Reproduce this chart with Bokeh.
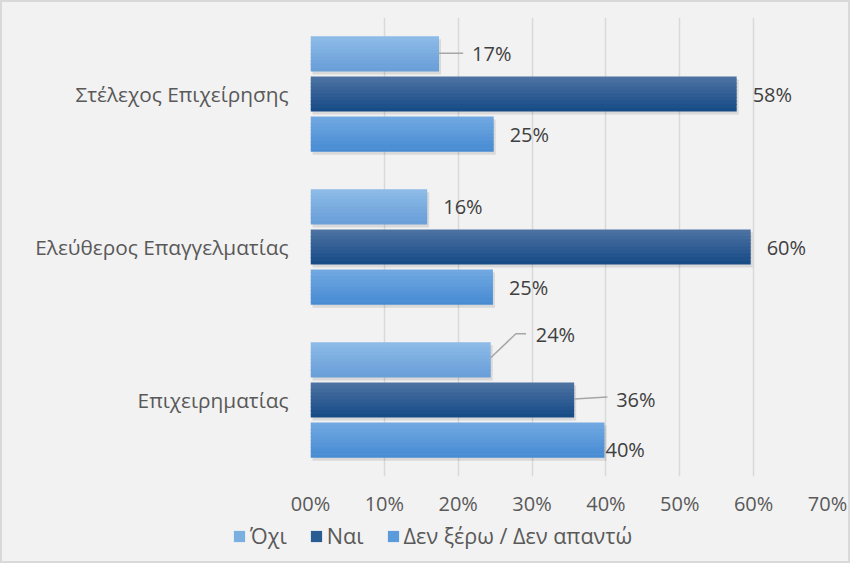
from bokeh.plotting import figure
from bokeh.layouts import column
from bokeh.models import (ColumnDataSource, FixedTicker, Legend, LegendItem, Range1d)
from bokeh.core.properties import value
from bokeh.embed import file_html
from bokeh.resources import INLINE

# ---- data ----
categories = ["Επιχειρηματίας", "Ελεύθερος Επαγγελματίας", "Στέλεχος Επιχείρησης"]  # bottom -> top
series_names = ["Όχι", "Ναι", "Δεν ξέρω / Δεν απαντώ"]
ochi = [24.4, 15.8, 17.4]
nai = [35.7, 59.6, 57.7]
den_xero = [39.8, 24.7, 24.8]
ochi_labels = ["24%", "16%", "17%"]
nai_labels = ["36%", "60%", "58%"]
den_xero_labels = ["40%", "25%", "25%"]
x_ticks = [0, 10, 20, 30, 40, 50, 60, 70]
x_tick_labels = ["00%", "10%", "20%", "30%", "40%", "50%", "60%", "70%"]

# ---- style ----
FONT = "Open Sans"
BG = "#f2f2f2"
BORDER = "2px solid #d9d9d9"
W = 850
H1, H2 = 520, 43
LEFT, RIGHT, TOP, BOTTOM = 308, 25, 15, 46
FRAME_W = W - 4 - LEFT - RIGHT
FRAME_H = H1 - 2 - TOP - BOTTOM
XMAX = 70
PX_X = FRAME_W / XMAX          # px per data unit (x)
PX_Y = FRAME_H / 3.0           # px per data unit (y)
colors = ["#7cafe1", "#2a5c94", "#5b9bdb"]          # legend / mid colours
grad_top = ["#8dbbe8", "#4c72a2", "#71a8e1"]
grad_bot = ["#6a9fd8", "#184c87", "#488cd3"]
offsets = [40 / PX_Y, 0.0, -40 / PX_Y]
bar_h = 35 / PX_Y
N_STRIPS = 10

# label placement (px offsets from bar end / centre), per series per category
lab_dx = [[45, 16, 33], [42, 16, 16], [1, 16, 16]]
lab_dy = [[-25, 0, 0], [-1, 0, 0], [9, 0, 0]]
# leader lines: (series, cat, [dx px...], [dy px...])
leaders = [
    (0, 0, [0, 25, 35], [-2, -26, -26]),
    (1, 0, [0, 33], [-1, -3]),
    (0, 2, [0, 24], [-0.5, -0.5]),
]


def mix(c1, c2, t):
    a = [int(c1[i:i + 2], 16) for i in (1, 3, 5)]
    b = [int(c2[i:i + 2], 16) for i in (1, 3, 5)]
    return "#%02x%02x%02x" % tuple(round(x + (y - x) * t) for x, y in zip(a, b))


p = figure(width=W, height=H1, output_backend="svg", toolbar_location=None,
           x_range=Range1d(0, XMAX), y_range=Range1d(-0.5, 2.5),
           min_border_left=LEFT, min_border_right=RIGHT,
           min_border_top=TOP, min_border_bottom=BOTTOM)
p.frame_align = False
p.background_fill_color = BG
p.border_fill_color = BG
p.outline_line_color = None
p.styles = {"border-top": BORDER, "border-left": BORDER, "border-right": BORDER,
            "box-sizing": "border-box", "background": BG}

p.ygrid.grid_line_color = None
p.xgrid.grid_line_color = "#d9d9d9"
p.xgrid.grid_line_width = 1.5
p.xaxis.ticker = FixedTicker(ticks=x_ticks)
p.xaxis.major_label_overrides = {t: l for t, l in zip(x_ticks, x_tick_labels)}
p.yaxis.ticker = FixedTicker(ticks=[0, 1, 2])
p.yaxis.major_label_overrides = {i: c for i, c in enumerate(categories)}
for ax in (p.xaxis, p.yaxis):
    ax.axis_line_color = None
    ax.major_tick_line_color = None
    ax.minor_tick_line_color = None
    ax.major_label_text_font = FONT
    ax.major_label_text_color = "#595959"
p.xaxis.major_label_text_font_size = "20px"
p.yaxis.major_label_text_font_size = "20.8px"
p.xaxis.major_label_standoff = 7
p.yaxis.major_label_standoff = 16

all_vals = [ochi, nai, den_xero]
all_labels = [ochi_labels, nai_labels, den_xero_labels]
for s, (vals, off) in enumerate(zip(all_vals, offsets)):
    ys = [i + off for i in range(len(categories))]
    # soft shadow
    p.hbar(y=[y - 3 / PX_Y for y in ys], right=[v + 2 / PX_X for v in vals], left=2 / PX_X,
           height=bar_h, fill_color="#000000", fill_alpha=0.10, line_color=None)
    # vertical gradient made of thin strips
    strip = bar_h / N_STRIPS
    for k in range(N_STRIPS):
        col = mix(grad_top[s], grad_bot[s], k / (N_STRIPS - 1))
        yk = [y + bar_h / 2 - (k + 0.5) * strip for y in ys]
        hk = strip * (1.0 if k in (0, N_STRIPS - 1) else 1.3)
        p.hbar(y=yk, right=vals, left=0, height=hk, fill_color=col, line_color=None)

for (s, c, dxs, dys) in leaders:
    v = all_vals[s][c]
    yc = c + offsets[s]
    p.line(x=[v + dx / PX_X for dx in dxs], y=[yc - dy / PX_Y for dy in dys],
           line_color="#a6a6a6", line_width=1.5)

for s in range(3):
    src = ColumnDataSource(dict(
        x=all_vals[s], y=[i + offsets[s] for i in range(3)], t=all_labels[s],
        dx=lab_dx[s], dy=lab_dy[s]))
    p.text(x="x", y="y", text="t", x_offset="dx", y_offset="dy", source=src,
           text_font=value(FONT), text_font_size="20px", text_color="#404040",
           text_baseline="middle", text_align="left")

# ---- legend strip (own figure, bars kept out of its visible range) ----
lg = figure(width=W, height=H2, output_backend="svg", toolbar_location=None,
            x_range=Range1d(-2, -1), y_range=Range1d(-0.5, 2.5),
            x_axis_type=None, y_axis_type=None,
            min_border_left=0, min_border_right=0, min_border_top=0, min_border_bottom=0)
lg.frame_align = False
lg.background_fill_color = BG
lg.border_fill_color = BG
lg.outline_line_color = None
lg.xgrid.visible = False
lg.ygrid.visible = False
lg.styles = {"border-bottom": BORDER, "border-left": BORDER, "border-right": BORDER,
             "box-sizing": "border-box", "background": BG}
leg_renderers = []
for s, col in enumerate(colors):
    r = lg.hbar(y=list(range(len(categories))), right=all_vals[s], left=0, height=bar_h,
                fill_color=col, line_color=None)
    leg_renderers.append(r)
legend = Legend(items=[LegendItem(label=n, renderers=[r]) for n, r in zip(series_names, leg_renderers)],
                location=(230, 13), orientation="horizontal",
                label_text_font=FONT, label_text_font_size="21.6px", label_text_color="#595959",
                glyph_width=14, glyph_height=14, label_standoff=4, spacing=22,
                padding=0, margin=0, label_height=20,
                background_fill_alpha=0, border_line_alpha=0)
lg.add_layout(legend, "center")

layout = column(p, lg, spacing=0, styles={"background": BG})
open("out.html", "w").write(file_html(layout, INLINE))
